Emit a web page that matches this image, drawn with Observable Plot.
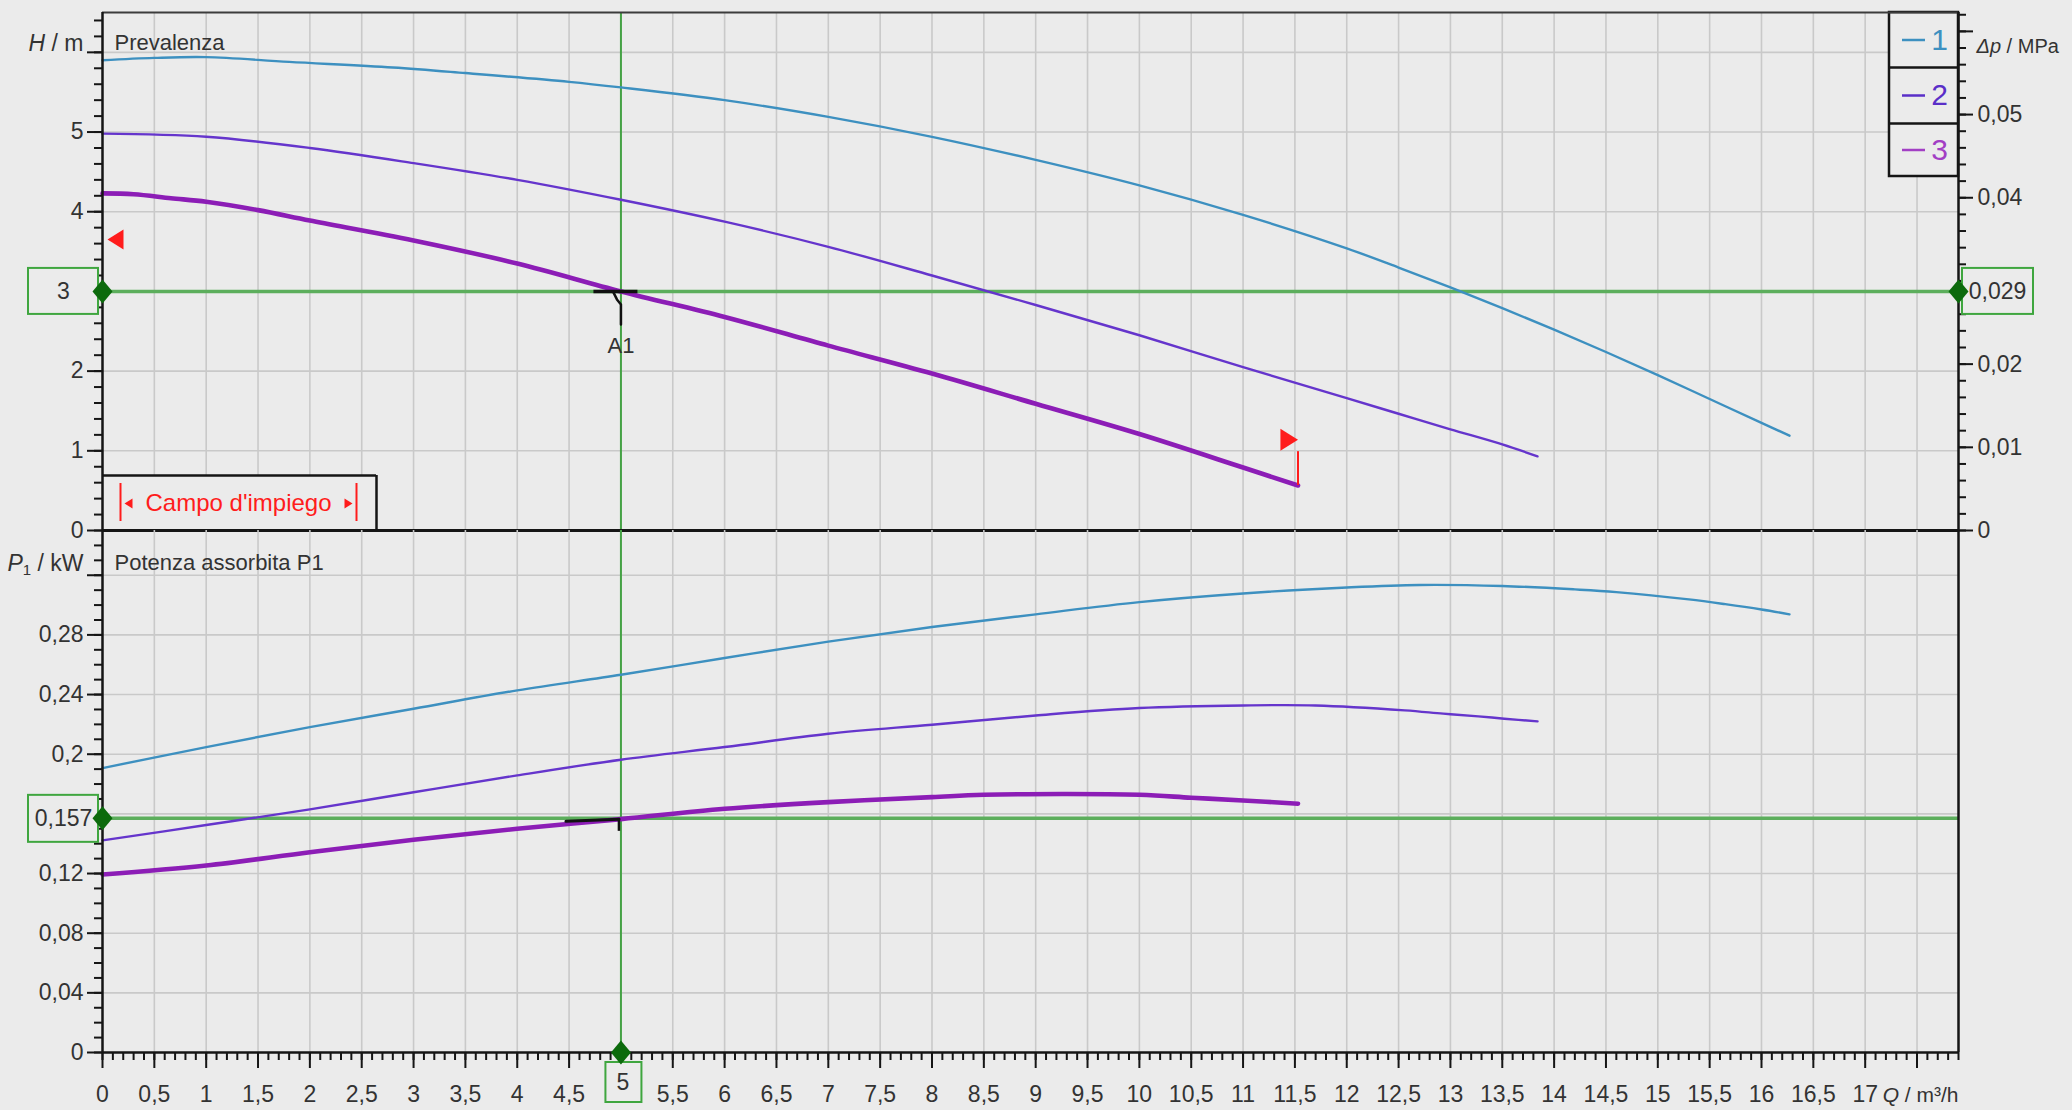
<!DOCTYPE html>
<html><head><meta charset="utf-8">
<script src="https://cdn.jsdelivr.net/npm/d3@7"></script>
<script src="https://cdn.jsdelivr.net/npm/@observablehq/plot@0.6"></script>
<style>
html,body{margin:0;padding:0;background:#ebebeb;}
#chart{position:relative;width:2072px;height:1110px;overflow:hidden;background:#ebebeb;}
#chart svg{position:absolute;left:0;}
</style></head><body><div id="chart"></div>
<script>
// ---------------- data ----------------
// Head H [m] vs flow Q [m3/h]
const curve1Q = [0, 0.5, 1, 1.8, 2.8, 3.5, 4.5, 5, 6, 7, 8, 9, 10, 11, 12, 12.5, 13, 13.5, 14, 14.5, 15, 15.5, 16, 16.27];
const curve1H = [5.90, 5.93, 5.94, 5.88, 5.81, 5.74, 5.63, 5.56, 5.40, 5.19, 4.94, 4.65, 4.33, 3.96, 3.54, 3.30, 3.05, 2.79, 2.52, 2.24, 1.95, 1.65, 1.35, 1.19];
const curve2Q = [0, 1, 2, 3, 4, 5, 6, 7, 8, 9, 10, 11, 12, 12.5, 13, 13.5, 13.84];
const curve2H = [4.98, 4.94, 4.80, 4.61, 4.40, 4.15, 3.875, 3.56, 3.20, 2.83, 2.45, 2.05, 1.66, 1.465, 1.27, 1.08, 0.93];
const curve3Q = [0, 0.3, 0.66, 1, 1.5, 2, 3, 4, 5, 6, 7, 8, 9, 10, 11, 11.53];
const curve3H = [4.23, 4.22, 4.17, 4.125, 4.02, 3.89, 3.64, 3.35, 3.0, 2.68, 2.32, 1.97, 1.59, 1.21, 0.79, 0.565];
// Power input P1 [kW] vs flow Q [m3/h]
const power1Q = [0, 1, 2, 3, 4, 5, 6, 7, 8, 9, 10, 11, 12, 12.7, 13.5, 14.2, 14.6, 15.3, 15.65, 16, 16.27];
const power1P = [0.1907, 0.2048, 0.2182, 0.2305, 0.2428, 0.2533, 0.2645, 0.2755, 0.2853, 0.2938, 0.302, 0.3078, 0.3118, 0.3135, 0.3128, 0.3105, 0.3087, 0.3038, 0.3006, 0.297, 0.2938];
const power2Q = [0, 1, 2, 3, 4, 5, 6, 7, 8, 9, 10, 11, 11.7, 12.56, 12.93, 13.27, 13.52, 13.84];
const power2P = [0.1422, 0.1525, 0.163, 0.1745, 0.1858, 0.1963, 0.2048, 0.2137, 0.2198, 0.226, 0.231, 0.2327, 0.2327, 0.2294, 0.2272, 0.2254, 0.2238, 0.222];
const power3Q = [0, 1, 2, 3, 4, 5, 6, 7, 8, 8.5, 10, 10.5, 11, 11.53];
const power3P = [0.1194, 0.1254, 0.1343, 0.1427, 0.150, 0.1565, 0.1634, 0.1679, 0.1712, 0.1728, 0.1728, 0.1708, 0.169, 0.1668];
const seriesNames = ["1", "2", "3"];

// duty point A1
const dutyQ = 5, dutyH = 3, dutyP = 0.157;
const dutyLabels = {q: "5", h: "3", dp: "0,029", p: "0,157", name: "A1"};
// operating range ("Campo d'impiego") limits of curve 3
const rangeStartQ = 0, rangeStartH = 3.65;
const rangeEndQ = 11.53, rangeEndH = 1.14;

// tick values
const qLabels = [0,0.5,1,1.5,2,2.5,3,3.5,4,4.5,5.5,6,6.5,7,7.5,8,8.5,9,9.5,10,10.5,11,11.5,12,12.5,13,13.5,14,14.5,15,15.5,16,16.5,17];
const qMajor = [0,0.5,1,1.5,2,2.5,3,3.5,4,4.5,5,5.5,6,6.5,7,7.5,8,8.5,9,9.5,10,10.5,11,11.5,12,12.5,13,13.5,14,14.5,15,15.5,16,16.5,17,17.5];
const hLabels = [0,1,2,4,5];
const hMajor = [0,1,2,3,4,5,6];
const pLabels = [0,0.04,0.08,0.12,0.2,0.24,0.28];
const pMajor = [0,0.04,0.08,0.12,0.16,0.2,0.24,0.28,0.32];
const dpLabels = [0,0.01,0.02,0.04,0.05];
const dpMajor = [0,0.01,0.02,0.03,0.04,0.05,0.06];
const K = 0.00958;            // MPa per metre of head
const XMAX = 17.9, HMAX = 6.5, PMAX = 0.35;

// ---------------- styles ----------------
const W = 2072, ML = 102, MR = 114;
const TOP_H = 530, TOP_MT = 12, BOT_H = 580, BOT_MB = 58;
const FONT = "'Liberation Sans Narrow','Liberation Sans',Arial,sans-serif";
const BG = "#ebebeb", GRID = "#c9c9c9", AX = "#151515", TXT = "#333333";
const GREEN_H = "#5cae5c", GREEN_V = "#45a245", GREEN_D = "#0c6a0c", GREEN_BOX = "#3fa63f", RED = "#ff1c1c";
const COLORS = {"1": "#3d90c0", "2": "#6535cc", "3": "#8c1db6"};
const LEGCOL = {"1": "#3d90c0", "2": "#5a2fc8", "3": "#a23fc4"};
const WIDTHS = {"1": 2.4, "2": 2.4, "3": 4.6};

const pxQ = (W - ML - MR) / XMAX;               // px per m3/h
const pxH = (TOP_H - TOP_MT) / HMAX;            // px per m
const pxP = (BOT_H - BOT_MB) / PMAX;            // px per kW
const dq = px => px / pxQ, dh = px => px / pxH, dpw = px => px / pxP;
const fmt = v => String(+(+v).toFixed(4)).replace(".", ",");
const rng = (a, b, s) => d3.range(Math.round(a / s), Math.round(b / s) + 1).map(i => +(i * s).toFixed(4));

const qMinor = rng(0, XMAX, 0.1);
const qGrid = rng(0.5, 17.5, 0.5);
const hMinor = rng(0, 6.4, 0.2);
const pMinor = rng(0, 0.34, 0.01);
const dpMinor = rng(0, 0.062, 0.002);

const rows = (qs, vs, name) => qs.map((q, i) => ({q, v: vs[i], name}));
const headRows = [rows(curve1Q, curve1H, "1"), rows(curve2Q, curve2H, "2"), rows(curve3Q, curve3H, "3")];
const powerRows = [rows(power1Q, power1P, "1"), rows(power2Q, power2P, "2"), rows(power3Q, power3P, "3")];

// symbols
const diamond = {draw(c, size) { const r = Math.sqrt(size / Math.PI); c.moveTo(0, -1.2 * r); c.lineTo(r, 0); c.lineTo(0, 1.2 * r); c.lineTo(-r, 0); c.closePath(); }};
const triLeft = {draw(c, size) { const r = Math.sqrt(size / Math.PI); c.moveTo(0, 0); c.lineTo(1.6 * r, -r); c.lineTo(1.6 * r, r); c.closePath(); }};
const triRight = {draw(c, size) { const r = Math.sqrt(size / Math.PI); c.moveTo(0, 0); c.lineTo(-1.6 * r, -r); c.lineTo(-1.6 * r, r); c.closePath(); }};

const common = {
  width: W, marginLeft: ML, marginRight: MR,
  style: {background: "transparent", fontFamily: FONT, fontSize: "23px", color: TXT, overflow: "visible"}
};
const gridStyle = {stroke: GRID, strokeOpacity: 1, strokeWidth: 1.6};
const tickStyle = {stroke: AX, strokeWidth: 2, strokeOpacity: 1, fill: TXT, fontSize: 23, label: null};
const CURVE = "catmull-rom";

// ---------------- top panel: Prevalenza ----------------
const campo = {q2: dq(274), h2: dh(55)};
const leg = {q1: XMAX - dq(69), rows: [HMAX, HMAX - dh(55), HMAX - dh(111), HMAX - dh(164)]};
const legItems = seriesNames.map((n, i) => ({name: n, h: (leg.rows[i] + leg.rows[i + 1]) / 2}));

const topPlot = Plot.plot({
  ...common, height: TOP_H, marginTop: TOP_MT, marginBottom: 0,
  x: {domain: [0, XMAX], axis: null, label: null},
  y: {domain: [0, HMAX], axis: null, label: null},
  marks: [
    Plot.gridX(qGrid, gridStyle),
    Plot.gridY(hMajor.filter(d => d > 0), gridStyle),
    // Campo d'impiego box
    Plot.rect([campo], {x1: 0, x2: "q2", y1: 0, y2: "h2", fill: BG}),
    Plot.ruleY([campo], {y: "h2", x1: 0, x2: "q2", stroke: AX, strokeWidth: 2.5}),
    Plot.ruleX([campo], {x: "q2", y1: 0, y2: "h2", stroke: AX, strokeWidth: 2.5}),
    Plot.ruleX([dq(18), campo.q2 - dq(20)], {x: d => d, y1: dh(9), y2: dh(47), stroke: RED, strokeWidth: 2}),
    Plot.dot([dq(22)], {x: d => d, y: dh(27), symbol: triLeft, r: 5, fill: RED, stroke: null}),
    Plot.dot([campo.q2 - dq(24)], {x: d => d, y: dh(27), symbol: triRight, r: 5, fill: RED, stroke: null}),
    Plot.text(["Campo d'impiego"], {x: campo.q2 / 2 - dq(1), y: dh(27), text: d => d, fill: RED, fontSize: 24}),
    // legend box
    Plot.rect([leg], {x1: "q1", x2: XMAX, y1: leg.rows[3], y2: HMAX, fill: BG, stroke: AX, strokeWidth: 2.5}),
    Plot.ruleY(leg.rows.slice(1, 3), {x1: leg.q1, x2: XMAX, stroke: AX, strokeWidth: 2.5}),
    Plot.ruleY(legItems, {y: "h", x1: leg.q1 + dq(13), x2: leg.q1 + dq(36), stroke: d => LEGCOL[d.name], strokeWidth: 2.5}),
    Plot.text(legItems, {x: leg.q1 + dq(50), y: "h", text: "name", fill: d => LEGCOL[d.name], fontSize: 30}),
    // duty lines
    Plot.ruleY([dutyH], {x1: 0, x2: XMAX, stroke: GREEN_H, strokeWidth: 3.5}),
    Plot.ruleX([dutyQ], {y1: 0, y2: HMAX, stroke: GREEN_V, strokeWidth: 2}),
    // curves
    ...headRows.map(r => Plot.line(r, {x: "q", y: "v", stroke: COLORS[r[0].name], strokeWidth: WIDTHS[r[0].name], curve: CURVE})),
    // operating range markers
    Plot.dot([{q: rangeStartQ, h: rangeStartH}], {x: "q", y: "h", dx: 5, symbol: triLeft, r: 10, fill: RED, stroke: null}),
    Plot.dot([{q: rangeEndQ, h: rangeEndH}], {x: "q", y: "h", symbol: triRight, r: 11, fill: RED, stroke: null}),
    Plot.ruleX([rangeEndQ], {y1: curve3H[curve3H.length - 1], y2: rangeEndH - dh(12), stroke: RED, strokeWidth: 2}),
    // A1 marker
    Plot.ruleY([dutyH], {x1: dutyQ - dq(27), x2: dutyQ + dq(17), stroke: "#111", strokeWidth: 3.5}),
    Plot.line([[dutyQ - dq(8), dutyH], [dutyQ - dq(4), dutyH - dh(8)], [dutyQ, dutyH - dh(13)], [dutyQ, dutyH - dh(33)]], {stroke: "#111", strokeWidth: 2.5}),
    Plot.text([dutyLabels.name], {x: dutyQ, y: dutyH - dh(55), text: d => d, fill: TXT, fontSize: 22}),
    // frame
    Plot.ruleY([HMAX], {x1: 0, x2: XMAX, stroke: "#3c3c3c", strokeWidth: 2}),
    Plot.ruleY([0], {x1: 0, x2: XMAX, stroke: AX, strokeWidth: 3}),
    Plot.ruleX([0, XMAX], {y1: 0, y2: HMAX, stroke: AX, strokeWidth: 2.5}),
    // left axis H
    Plot.axisY(hMinor, {...tickStyle, anchor: "left", tickSize: 8, tickFormat: () => ""}),
    Plot.axisY(hMajor, {...tickStyle, anchor: "left", tickSize: 15, tickPadding: 4, tickFormat: d => hLabels.includes(d) ? fmt(d) : ""}),
    // right axis Δp
    Plot.axisY(dpMinor.map(d => d / K), {...tickStyle, anchor: "right", tickSize: 7, tickFormat: () => ""}),
    Plot.axisY(dpMajor.map(d => d / K), {...tickStyle, anchor: "right", tickSize: 14, tickPadding: 5,
      tickFormat: h => { const d = +(h * K).toFixed(3); return dpLabels.includes(d) ? fmt(d) : ""; }}),
    // axis titles
    Plot.text(["H / m"], {x: 0, y: 6, text: d => d, dx: -19, dy: -9, textAnchor: "end", fill: TXT, fontSize: 23}),
    Plot.text(["Prevalenza"], {x: 0, y: 6, text: d => d, dx: 12, dy: -9, textAnchor: "start", fill: TXT, fontSize: 22}),
    Plot.text(["Δp / MPa"], {x: XMAX, y: 6, text: d => d, dx: 18, dy: -6, textAnchor: "start", fill: TXT, fontSize: 20}),
    // duty value boxes
    Plot.rect([0], {x1: -dq(74), x2: -dq(4), y1: dutyH - dh(23), y2: dutyH + dh(23), fill: BG, stroke: GREEN_BOX, strokeWidth: 2}),
    Plot.text([dutyLabels.h], {x: -dq(39), y: dutyH, text: d => d, fill: TXT, fontSize: 23}),
    Plot.rect([0], {x1: XMAX + dq(4), x2: XMAX + dq(75), y1: dutyH - dh(23), y2: dutyH + dh(23), fill: BG, stroke: GREEN_BOX, strokeWidth: 2}),
    Plot.text([dutyLabels.dp], {x: XMAX + dq(39), y: dutyH, text: d => d, fill: TXT, fontSize: 23}),
    Plot.dot([[0, dutyH], [XMAX, dutyH]], {x: d => d[0], y: d => d[1], symbol: diamond, r: 10, fill: GREEN_D, stroke: null})
  ]
});

// ---------------- bottom panel: Potenza assorbita ----------------
const botPlot = Plot.plot({
  ...common, height: BOT_H, marginTop: 0, marginBottom: BOT_MB,
  x: {domain: [0, XMAX], axis: null, label: null},
  y: {domain: [0, PMAX], axis: null, label: null},
  marks: [
    Plot.gridX(qGrid, gridStyle),
    Plot.gridY(pMajor.filter(d => d > 0), gridStyle),
    Plot.ruleY([dutyP], {x1: 0, x2: XMAX, stroke: GREEN_H, strokeWidth: 3.5}),
    Plot.ruleX([dutyQ], {y1: 0, y2: PMAX, stroke: GREEN_V, strokeWidth: 2}),
    ...powerRows.map(r => Plot.line(r, {x: "q", y: "v", stroke: COLORS[r[0].name], strokeWidth: WIDTHS[r[0].name], curve: CURVE})),
    // duty marker on curve 3
    Plot.line([[dutyQ - dq(55), dutyP - dpw(3)], [dutyQ - dq(2), dutyP - dpw(1)]], {stroke: "#111", strokeWidth: 3}),
    Plot.ruleX([dutyQ - dq(2)], {y1: dutyP, y2: dutyP - dpw(13), stroke: "#111", strokeWidth: 2.5}),
    // frame
    Plot.ruleY([0], {x1: 0, x2: XMAX, stroke: AX, strokeWidth: 2.5}),
    Plot.ruleX([0, XMAX], {y1: 0, y2: PMAX, stroke: AX, strokeWidth: 2.5}),
    // axes
    Plot.axisY(pMinor, {...tickStyle, anchor: "left", tickSize: 8, tickFormat: () => ""}),
    Plot.axisY(pMajor, {...tickStyle, anchor: "left", tickSize: 15, tickPadding: 4, tickFormat: d => pLabels.includes(d) ? fmt(d) : ""}),
    Plot.axisX(qMinor, {...tickStyle, anchor: "bottom", tickSize: 8, tickFormat: () => ""}),
    Plot.axisX(qMajor, {...tickStyle, anchor: "bottom", tickSize: 16, tickPadding: 17, tickFormat: d => qLabels.includes(d) ? fmt(d) : ""}),
    // titles
    Plot.text(["P1 / kW"], {x: 0, y: 0.32, text: d => d, dx: -19, dy: -12, textAnchor: "end", fill: TXT, fontSize: 23}),
    Plot.text(["Potenza assorbita P1"], {x: 0, y: 0.32, text: d => d, dx: 12, dy: -12, textAnchor: "start", fill: TXT, fontSize: 22}),
    Plot.text(["Q / m³/h"], {x: XMAX, y: 0, text: d => d, dy: 43, textAnchor: "end", fill: TXT, fontSize: 21}),
    // duty boxes
    Plot.rect([0], {x1: -dq(74), x2: -dq(4), y1: dutyP - dpw(24), y2: dutyP + dpw(23), fill: BG, stroke: GREEN_BOX, strokeWidth: 2}),
    Plot.text([dutyLabels.p], {x: -dq(39), y: dutyP, text: d => d, fill: TXT, fontSize: 23}),
    Plot.rect([0], {x1: dutyQ - dq(15), x2: dutyQ + dq(21), y1: -dpw(50), y2: -dpw(10), fill: BG, stroke: GREEN_BOX, strokeWidth: 2}),
    Plot.text([dutyLabels.q], {x: dutyQ + dq(2), y: -dpw(30), text: d => d, fill: TXT, fontSize: 23}),
    Plot.dot([[0, dutyP], [dutyQ, 0]], {x: d => d[0], y: d => d[1], symbol: diamond, r: 10, fill: GREEN_D, stroke: null})
  ]
});

topPlot.style.top = "0px";
botPlot.style.top = TOP_H + "px";
const chart = document.getElementById("chart");
chart.appendChild(topPlot);
chart.appendChild(botPlot);

// italic / subscript parts of axis titles
function rich(svg, str, html) {
  d3.select(svg).selectAll("text").filter(function () { return this.textContent === str; }).html(html);
}
rich(topPlot, "H / m", '<tspan font-style="italic">H</tspan> / m');
rich(topPlot, "Δp / MPa", '<tspan font-style="italic">Δp</tspan> / MPa');
rich(botPlot, "P1 / kW", '<tspan font-style="italic">P</tspan><tspan font-size="15" dy="4">1</tspan><tspan dy="-4"> / kW</tspan>');
rich(botPlot, "Q / m³/h", '<tspan font-style="italic">Q</tspan> / m³/h');
</script></body></html>
